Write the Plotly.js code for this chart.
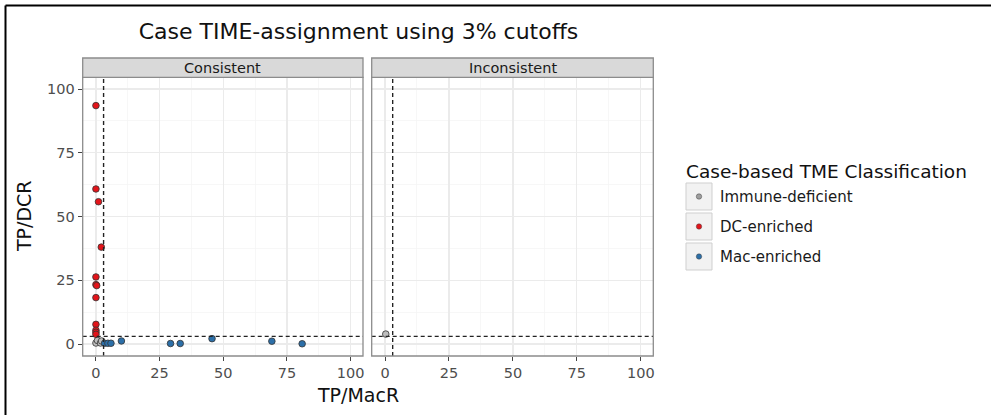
<!DOCTYPE html>
<html>
<head>
<meta charset="utf-8">
<script src="https://cdn.plot.ly/plotly-3.0.1.min.js"></script>
<style>
html,body{margin:0;padding:0;background:#fff;}
#chart{width:991px;height:415px;}
</style>
</head>
<body>
<div id="chart"></div>
<script>
// ---- data ----
const panels = ["Consistent", "Inconsistent"];
const classes = ["Immune-deficient", "DC-enriched", "Mac-enriched"];
const classColors = ["#bdbdbd", "#e3141a", "#2c6fa8"];

// Consistent panel
const consImmX = [0, 0.6, 1.8, 2.2];
const consImmY = [0.4, 1.4, 0.4, 1.2];
const consDcX = [0, 0, 1.0, 2.1, 0, 0, 0.3, 0, 0, 0, 0, 0];
const consDcY = [93.5, 60.8, 55.8, 38.0, 26.3, 23.3, 22.9, 18.2, 7.7, 5.4, 4.6, 3.8];
const consMacX = [3.4, 4.7, 5.9, 10.0, 29.3, 33.1, 45.6, 69.1, 81.0];
const consMacY = [0.3, 0.3, 0.3, 1.2, 0.2, 0.2, 2.1, 1.1, 0.1];

// Inconsistent panel
const incImmX = [0.3];
const incImmY = [3.9];

const cutoff = 3;
const tickVals = [0, 25, 50, 75, 100];
const tickText = ["0", "25", "50", "75", "100"];

const titleText = "Case TIME-assignment using 3% cutoffs";
const xTitle = "TP/MacR";
const yTitle = "TP/DCR";
const legendTitle = "Case-based TME Classification";

// ---- layout geometry (pixels -> paper) ----
const W = 991, H = 415;
const px = v => v / W;
const py = v => 1 - v / H;

const FONT = "DejaVu Sans, sans-serif";
const xr = [-5.2, 104.9];
const yr = [-4.7, 104.6];

function mk(x, y, ci, xa, ya) {
  return {
    type: "scatter", mode: "markers", x: x, y: y, xaxis: xa, yaxis: ya,
    name: classes[ci], showlegend: false, hoverinfo: "x+y",
    marker: {size: 6.6, color: classColors[ci], line: {color: "#333333", width: 0.8}}
  };
}

const traces = [
  mk(consImmX, consImmY, 0, "x", "y"),
  mk(consDcX, consDcY, 1, "x", "y"),
  mk(consMacX, consMacY, 2, "x", "y"),
  mk(incImmX, incImmY, 0, "x2", "y2")
];

function xaxis(domain, anchor) {
  return {
    domain: domain, anchor: anchor, range: xr, autorange: false,
    tickvals: tickVals, ticktext: tickText, ticks: "outside", ticklen: 4, tickwidth: 1,
    tickcolor: "#444", tickfont: {family: FONT, size: 14.5, color: "#4d4d4d"},
    showgrid: true, gridcolor: "#ebebeb", gridwidth: 1.3,
    minor: {dtick: 12.5, tick0: 12.5, showgrid: true, gridcolor: "#f3f3f3", gridwidth: 0.7, ticks: ""},
    zeroline: false, showline: false, mirror: false, fixedrange: true
  };
}
function yaxis(anchor, showLabels) {
  return {
    domain: [py(356), py(77.3)], anchor: anchor, range: yr, autorange: false,
    tickvals: tickVals, ticktext: tickText, ticks: showLabels ? "outside" : "", ticklen: 4, tickwidth: 1,
    showticklabels: showLabels,
    tickcolor: "#444", tickfont: {family: FONT, size: 14.5, color: "#4d4d4d"},
    showgrid: true, gridcolor: "#ebebeb", gridwidth: 1.3,
    minor: {dtick: 12.5, tick0: 12.5, showgrid: true, gridcolor: "#f3f3f3", gridwidth: 0.7, ticks: ""},
    zeroline: false, showline: false, fixedrange: true
  };
}

const d1 = [px(82.7), px(363)];
const d2 = [px(371.7), px(653.3)];

const shapes = [];
const annotations = [];

// dashed cutoff lines
[["x", "y"], ["x2", "y2"]].forEach(([xa, ya]) => {
  shapes.push({type: "line", xref: xa, yref: ya, x0: cutoff, x1: cutoff, y0: yr[0], y1: yr[1],
    line: {color: "#222", width: 1.4, dash: "4px,3px"}});
  shapes.push({type: "line", xref: xa, yref: ya, x0: xr[0], x1: xr[1], y0: cutoff, y1: cutoff,
    line: {color: "#222", width: 1.4, dash: "4px,3px"}});
});

// panel borders + strips
[d1, d2].forEach((d, i) => {
  shapes.push({type: "rect", xref: "paper", yref: "paper", x0: d[0], x1: d[1], y0: py(356), y1: py(77.3),
    line: {color: "#8c8c8c", width: 1.3}, fillcolor: "rgba(0,0,0,0)", layer: "above"});
  shapes.push({type: "rect", xref: "paper", yref: "paper", x0: d[0], x1: d[1], y0: py(77.3), y1: py(58),
    line: {color: "#8c8c8c", width: 1.3}, fillcolor: "#d9d9d9", layer: "above"});
  annotations.push({xref: "paper", yref: "paper", x: (d[0] + d[1]) / 2, y: py(67.5),
    text: panels[i], showarrow: false, xanchor: "center", yanchor: "middle",
    font: {family: FONT, size: 14.5, color: "#1a1a1a"}});
});

// outer frame (top and left)
shapes.push({type: "line", xref: "paper", yref: "paper", x0: px(5.5), x1: 1, y0: py(5.5), y1: py(5.5),
  line: {color: "#000", width: 2}});
shapes.push({type: "line", xref: "paper", yref: "paper", x0: px(5.5), x1: px(5.5), y0: 0, y1: py(5.5),
  line: {color: "#000", width: 2}});

// axis titles
annotations.push({xref: "paper", yref: "paper", x: px(358), y: py(395), text: xTitle, showarrow: false,
  xanchor: "center", yanchor: "middle", font: {family: FONT, size: 19, color: "#111"}});
annotations.push({xref: "paper", yref: "paper", x: px(24), y: py(216), text: yTitle, showarrow: false,
  textangle: -90, xanchor: "center", yanchor: "middle", font: {family: FONT, size: 19, color: "#111"}});

// legend (drawn manually to match key boxes)
annotations.push({xref: "paper", yref: "paper", x: px(684), y: py(171), text: legendTitle, showarrow: false,
  xanchor: "left", yanchor: "middle", font: {family: FONT, size: 18.5, color: "#111"}});
const keyTops = [183, 213, 243];
classes.forEach((c, i) => {
  const t = keyTops[i];
  shapes.push({type: "rect", xref: "paper", yref: "paper", x0: px(686), x1: px(712), y0: py(t + 27), y1: py(t),
    line: {color: "#cfcfcf", width: 1}, fillcolor: "#f2f2f2"});
  shapes.push({type: "circle", xref: "paper", yref: "paper", x0: px(696.3), x1: px(701.7),
    y0: py(t + 16.2), y1: py(t + 10.8), line: {color: "#444", width: 0.5},
    fillcolor: i === 0 ? "#9e9e9e" : classColors[i]});
  annotations.push({xref: "paper", yref: "paper", x: px(718), y: py(t + 13.5), text: c, showarrow: false,
    xanchor: "left", yanchor: "middle", font: {family: FONT, size: 15, color: "#1a1a1a"}});
});

const layout = {
  width: W, height: H,
  margin: {l: 0, r: 0, t: 0, b: 0},
  paper_bgcolor: "#fff", plot_bgcolor: "#fff",
  showlegend: false,
  title: {text: titleText, x: px(358.5), xanchor: "center", xref: "paper",
    y: py(31), yref: "container", yanchor: "middle",
    font: {family: FONT, size: 22, color: "#111"}},
  xaxis: xaxis(d1, "y"),
  yaxis: yaxis("x", true),
  xaxis2: xaxis(d2, "y2"),
  yaxis2: yaxis("x2", false),
  shapes: shapes,
  annotations: annotations
};

Plotly.newPlot("chart", traces, layout, {staticPlot: true, displayModeBar: false});
</script>
</body>
</html>
